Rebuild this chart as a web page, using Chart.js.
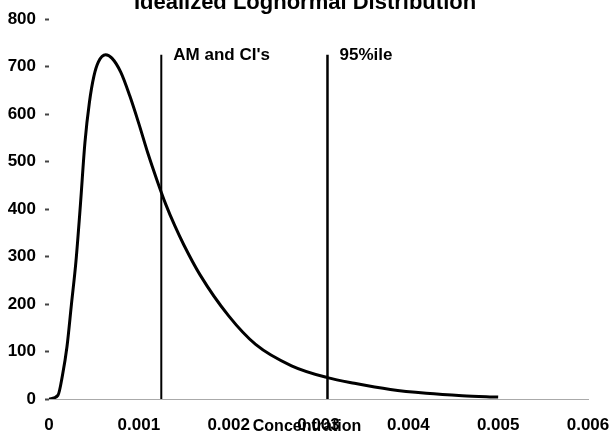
<!DOCTYPE html>
<html>
<head>
<meta charset="utf-8">
<title>Idealized Lognormal Distribution</title>
<script src="https://cdn.jsdelivr.net/npm/chart.js@4/dist/chart.umd.min.js"></script>
<style>
  html, body { margin: 0; padding: 0; background: #fff; }
  #wrap { width: 613px; height: 435px; position: relative; }
</style>
</head>
<body>
<div id="wrap"><canvas id="lognormChart"></canvas></div>
<script>
// values
const concentration = [0, 0.0001, 0.00015, 0.0002, 0.00025, 0.0003, 0.00035, 0.0004, 0.00045, 0.0005, 0.00055, 0.00063,
    0.0007, 0.0008, 0.0009, 0.001, 0.0011, 0.0012, 0.0013, 0.0014, 0.0015, 0.00168, 0.002, 0.0023, 0.0027, 0.0031, 0.0034,
    0.0038, 0.0042, 0.0046, 0.005];
const density = [0, 8, 50, 110, 200, 290, 410, 540, 625, 680, 710, 725,
    718, 688, 638, 580, 518, 462, 410, 365, 325, 262, 175, 115, 70, 45, 33,
    20, 12, 7, 4];

const markerX = [0.00125, 0.0031];
const markerLabels = ["AM and CI's", "95%ile"];
const markerTop = 725;

const xTickValues = [0, 0.001, 0.002, 0.003, 0.004, 0.005, 0.006];
const xTickLabels = ["0", "0.001", "0.002", "0.003", "0.004", "0.005", "0.006"];
const yTickValues = [0, 100, 200, 300, 400, 500, 600, 700, 800];

const chartTitle = "Idealized Lognormal Distribution";
const xTitle = "Concentration";

const FONT = "'Liberation Sans', Arial, Helvetica, sans-serif";

let curvePoints = concentration.map((c, i) => ({ x: c, y: density[i] }));

let markerSets = markerX.map((mx, i) => ({
    label: markerLabels[i],
    data: [{ x: mx, y: 0 }, { x: mx, y: markerTop }],
    borderColor: "#000",
    borderWidth: i == 0 ? 2 : 2.5,
    pointRadius: 0,
    tension: 0
}));

let textPlugin = {
    id: "chartText",
    afterDraw(chart) {
        let ctx = chart.ctx;
        let xs = chart.scales.x;
        let ys = chart.scales.y;
        ctx.save();
        ctx.fillStyle = "#000";

        // title, cut off at the top like the scan
        ctx.font = "bold 22px " + FONT;
        ctx.textAlign = "center";
        ctx.textBaseline = "alphabetic";
        ctx.fillText(chartTitle, 305, 9);

        // axis title sits on top of the tick labels
        ctx.font = "bold 16px " + FONT;
        ctx.textBaseline = "middle";
        ctx.fillText(xTitle, 307, 427);

        // labels beside the marker lines
        ctx.font = "bold 17px " + FONT;
        ctx.textAlign = "left";
        markerX.forEach((mx, i) => {
            ctx.fillText(markerLabels[i], xs.getPixelForValue(mx) + 12, ys.getPixelForValue(markerTop) + 1);
        });
        ctx.restore();
    }
};

let ctx = document.getElementById("lognormChart").getContext("2d");
let lognormChart = new Chart(ctx, {
    type: "line",
    data: {
        datasets: [{
            label: "Lognormal",
            data: curvePoints,
            borderColor: "#000",
            borderWidth: 3,
            pointRadius: 0,
            cubicInterpolationMode: "monotone"
        }].concat(markerSets)
    },
    options: {
        responsive: true,
        maintainAspectRatio: false,
        animation: false,
        layout: { padding: { top: 17, right: 25, left: 0, bottom: 0 } },
        plugins: {
            legend: { display: false },
            title: { display: false },
            tooltip: { enabled: false }
        },
        scales: {
            x: {
                type: "linear",
                min: 0,
                max: 0.006,
                afterBuildTicks(scale) {
                    scale.ticks = xTickValues.map(v => ({ value: v }));
                },
                afterFit(scale) {
                    scale.height = 36;
                    scale.paddingLeft = 0;
                    scale.paddingRight = 0;
                },
                grid: { display: false, drawTicks: false },
                border: { display: true, color: "#aaa", width: 1, dash: [3, 10] },
                ticks: {
                    padding: 16,
                    color: "#000",
                    maxRotation: 0,
                    font: { family: FONT, size: 17, weight: "bold" },
                    callback: (v, i) => xTickLabels[i]
                }
            },
            y: {
                min: 0,
                max: 800,
                afterBuildTicks(scale) {
                    scale.ticks = yTickValues.map(v => ({ value: v }));
                },
                afterFit(scale) { scale.width = 49; },
                grid: { drawOnChartArea: false, tickLength: 4, tickWidth: 2, tickColor: "#444" },
                border: { display: false },
                ticks: {
                    padding: 9,
                    color: "#000",
                    font: { family: FONT, size: 17, weight: "bold" }
                }
            }
        }
    },
    plugins: [textPlugin]
});
</script>
</body>
</html>
